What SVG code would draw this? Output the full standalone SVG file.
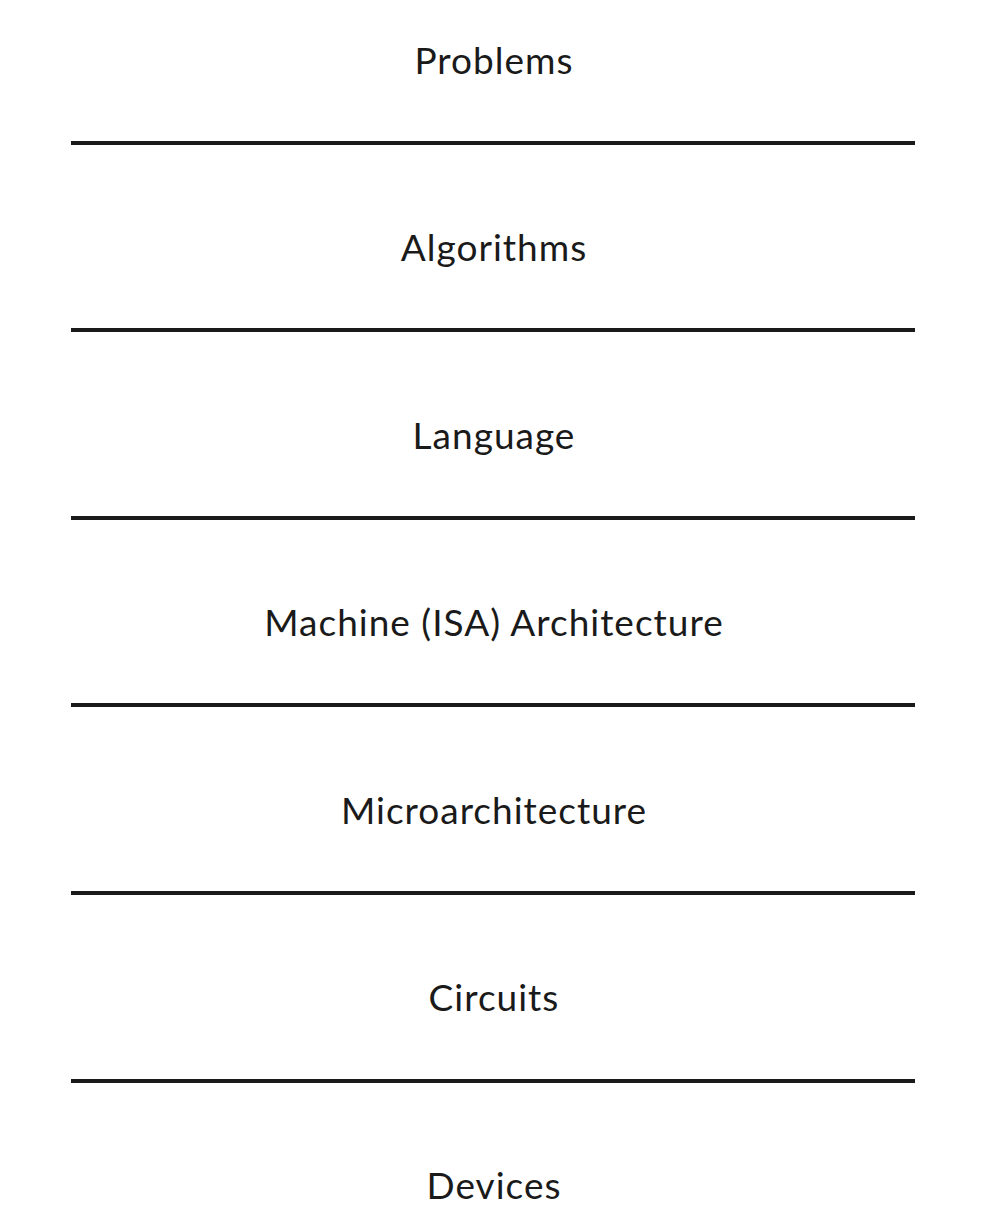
<svg xmlns="http://www.w3.org/2000/svg" width="1000" height="1212" viewBox="0 0 1000 1212">
<style>
.lbl{font-family:Lato,"Noto Sans",sans-serif;font-size:37px;letter-spacing:1px;fill:#1a1a1a;text-anchor:middle}
.sep{stroke:#1a1a1a;stroke-width:4;fill:none}
</style>
<rect width="1000" height="1212" fill="#ffffff"/>
<g id="connectors">
<line class="sep" x1="71" y1="143" x2="915" y2="143"/>
<line class="sep" x1="71" y1="330" x2="915" y2="330"/>
<line class="sep" x1="71" y1="518" x2="915" y2="518"/>
<line class="sep" x1="71" y1="705" x2="915" y2="705"/>
<line class="sep" x1="71" y1="893" x2="915" y2="893"/>
<line class="sep" x1="71" y1="1081" x2="915" y2="1081"/>
</g>
<g id="problems"><text class="lbl" x="494" y="74">Problems</text></g>
<g id="algorithms"><text class="lbl" x="494" y="261">Algorithms</text></g>
<g id="language"><text class="lbl" x="494" y="449">Language</text></g>
<g id="isa"><text class="lbl" x="494" y="636">Machine (ISA) Architecture</text></g>
<g id="microarchitecture"><text class="lbl" x="494" y="824">Microarchitecture</text></g>
<g id="circuits"><text class="lbl" x="494" y="1011">Circuits</text></g>
<g id="devices"><text class="lbl" x="494" y="1199">Devices</text></g>
</svg>
